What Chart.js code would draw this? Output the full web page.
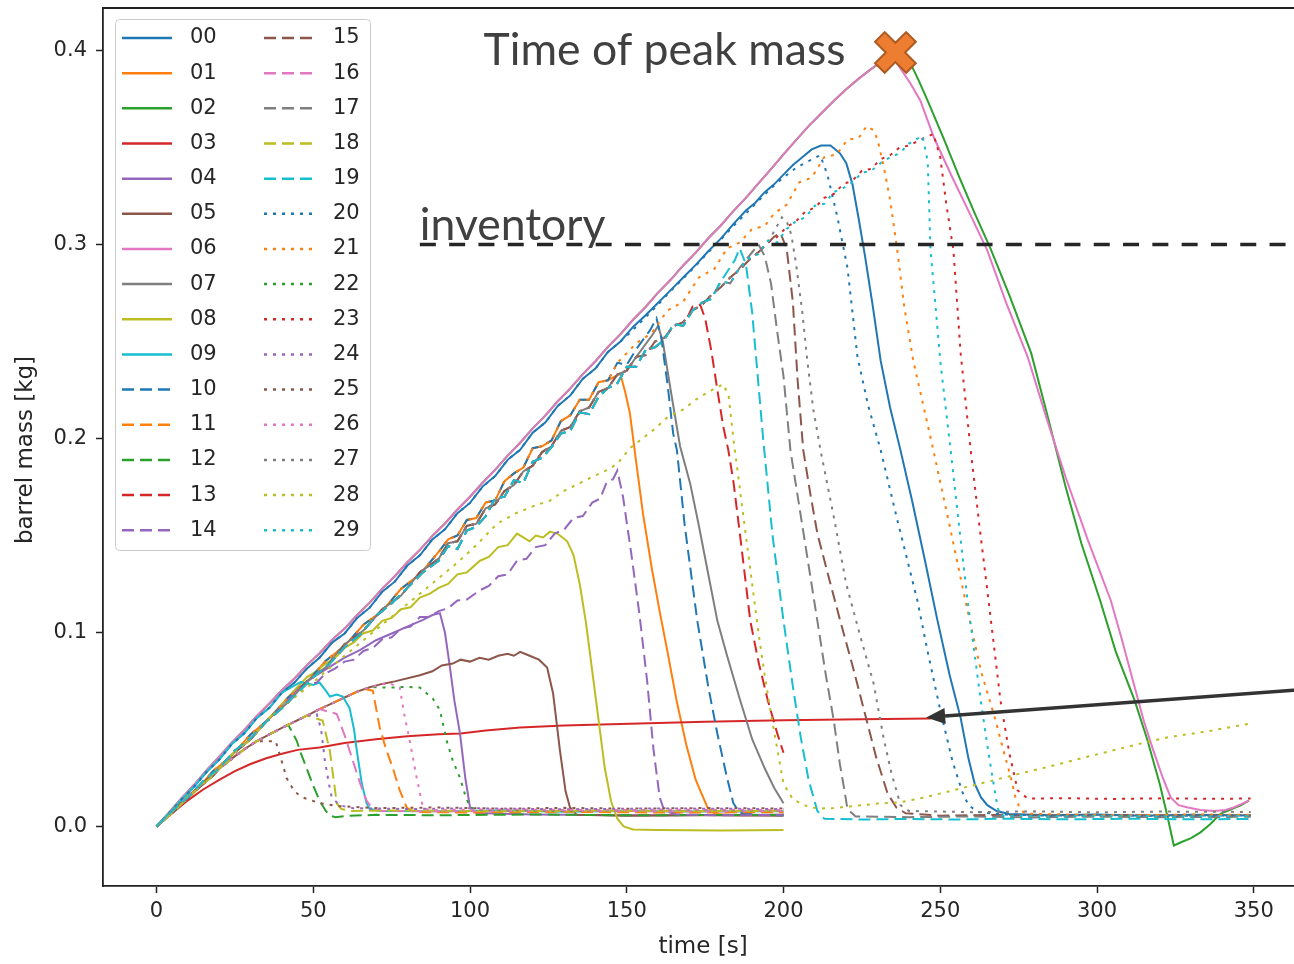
<!DOCTYPE html>
<html>
<head>
<meta charset="utf-8">
<title>barrel mass</title>
<script src="https://cdn.jsdelivr.net/npm/chart.js@4.4.1/dist/chart.umd.min.js"></script>
<style>
  html, body { margin: 0; padding: 0; background: #fff; overflow: hidden; }
  #cadre { width: 1300px; height: 964px; }
</style>
</head>
<body>
<div id="cadre"><canvas id="graphique-masse" width="1300" height="964"></canvas></div>
<script>
// run names and styles (tab10 colours, solid / dashed / dotted per decade)
const runLabels = ["00","01","02","03","04","05","06","07","08","09",
                   "10","11","12","13","14","15","16","17","18","19",
                   "20","21","22","23","24","25","26","27","28","29"];
const runColors = ["#1f77b4","#ff7f0e","#2ca02c","#d62728","#9467bd",
                   "#8c564b","#e377c2","#7f7f7f","#bcbd22","#17becf"];
const lineDashes = [[], [12, 6], [3, 6]];

const timeTicks = [0, 50, 100, 150, 200, 250, 300, 350];
const massTicks = [0.0, 0.1, 0.2, 0.3, 0.4];

// shared filling paths [time s, mass kg]
const riseTop = [[0,0],[4,.0072],[8,.0146],[12,.0215],[16,.0290],[20,.0360],[24,.0432],[28,.0498],[32,.0570],[36,.0634],[40,.0702],[44,.0763],[48,.0832],[52,.0893],[56,.0962],[60,.1020],[64,.1090],[68,.1154],[72,.1226],[76,.1290],[80,.1362],[84,.1426],[88,.1498],[92,.1562],[96,.1634],[100,.1700],[104,.1772],[108,.1838],[112,.1912],[116,.1978],[120,.2052],[124,.2118],[128,.2192],[132,.2258],[136,.2332],[140,.2398],[144,.2472],[148,.2538],[152,.2612],[156,.2678],[160,.2752],[164,.2818],[168,.2892],[172,.2958],[176,.3032],[180,.3098],[184,.3172],[188,.3240],[192,.3315],[196,.3388],[200,.3465],[204,.3538],[208,.3610],[212,.3675],[216,.3740],[220,.3800],[224,.3855],[228,.3905],[232,.3950],[236,.3990]];

const riseTop2 = [[0,0],[4,.0068],[8,.0140],[12,.0206],[16,.0282],[20,.0345],[24,.0425],[28,.0480],[32,.0560],[36,.0612],[40,.0690],[44,.0742],[48,.0815],[52,.0870],[56,.0948],[60,.0995],[64,.1075],[68,.1128],[72,.1210],[76,.1262],[80,.1345],[84,.1398],[88,.1480],[92,.1532],[96,.1615],[100,.1668],[104,.1752],[108,.1806],[112,.1890],[116,.1942],[120,.2030],[124,.2082],[128,.2168],[132,.2222],[136,.2308],[140,.2360],[144,.2446],[148,.2500],[152,.2585]];

const riseMid = [[0,0],[6,.0095],[12,.0175],[18,.0285],[24,.0365],[30,.0475],[36,.0555],[42,.0665],[48,.0745],[54,.0855],[60,.0930],[66,.1040],[72,.1110],[78,.1225],[84,.1300],[90,.1415],[93,.1480],[96,.1500],[99,.1580],[102,.1590],[105,.1670],[108,.1680],[111,.1780],[114,.1820],[117,.1850],[120,.1950],[123,.1960],[126,.1990],[129,.2090],[132,.2120],[135,.2200],[138,.2200],[141,.2290],[144,.2300],[147,.2390],[150,.2380],[153,.2460],[156,.2460],[159,.2550],[162,.2540],[165,.2620],[168,.2620],[171,.2710],[174,.2700],[177,.2790],[180,.2790],[183,.2880],[186,.2880],[189,.2970],[192,.2960],[195,.3050],[198,.3040],[201,.3130],[204,.3110],[207,.3200],[210,.3180],[213,.3260],[216,.3250],[219,.3330],[222,.3310],[225,.3390],[228,.3360],[231,.3440],[234,.3420],[237,.3500],[240,.3480],[243,.3550],[246,.3540]];

const riseMid2 = [[0,0],[6,.0085],[12,.0180],[18,.0262],[24,.0370],[30,.0450],[36,.0560],[42,.0640],[48,.0750],[54,.0820],[60,.0940],[66,.1010],[72,.1120],[78,.1190],[84,.1310],[90,.1380],[93,.1460],[96,.1470],[99,.1550],[102,.1560],[105,.1640],[108,.1660],[111,.1730],[114,.1760],[117,.1830],[120,.1860],[123,.1930],[126,.1960],[129,.2040],[132,.2060],[135,.2140],[138,.2160],[141,.2240],[144,.2260],[147,.2330],[150,.2350],[153,.2420],[156,.2430],[159,.2500],[162,.2520],[165,.2580],[168,.2600],[171,.2660],[174,.2690],[177,.2740],[180,.2780],[183,.2830],[186,.2870],[189,.2920],[192,.2960],[195,.3010],[198,.3040],[201,.3090],[204,.3120],[207,.3170],[210,.3190],[213,.3240],[216,.3260],[219,.3310],[222,.3330],[225,.3380],[228,.3390],[231,.3440],[234,.3460],[237,.3500],[240,.3510],[243,.3550],[246,.3560]];

const riseMid3 = [[0,0],[5,.0080],[10,.0150],[15,.0235],[20,.0300],[25,.0392],[30,.0455],[35,.0540],[40,.0610],[45,.0690],[50,.0770],[55,.0835],[60,.0925],[65,.0990],[70,.1085],[75,.1150],[80,.1230],[85,.1310],[90,.1370],[93,.1445],[96,.1430],[99,.1525],[102,.1545],[105,.1600],[108,.1690],[111,.1700],[114,.1785],[117,.1770],[120,.1880],[123,.1900],[126,.1955],[129,.2025],[132,.2040],[135,.2135],[138,.2125],[141,.2215],[144,.2260],[147,.2285],[150,.2370],[153,.2370],[156,.2455],[159,.2470],[162,.2510],[165,.2590],[168,.2580],[171,.2660],[174,.2700],[177,.2720],[180,.2810],[183,.2800],[186,.2880],[189,.2930],[192,.2950],[195,.3020],[198,.3010],[201,.3080],[204,.3120],[207,.3140],[210,.3200],[213,.3210],[216,.3270],[219,.3290],[222,.3320],[225,.3370],[228,.3380],[231,.3420],[234,.3450],[237,.3470],[240,.3520],[243,.3530],[246,.3560]];

const riseBase = [[0,0],[4,.0062],[8,.0124],[12,.0184],[16,.0242],[20,.0298],[24,.0350],[28,.0398],[32,.0440],[36,.0475],[40,.0508],[44,.0540],[48,.0572],[52,.0605],[56,.0635],[60,.0665],[64,.0695],[68,.0718],[72,.0735],[76,.0748],[80,.0760]];

// what each run does once it leaves its filling path
const tail00 = [[152,.2575],[156,.2635],[160,.2700],[164,.2765],[168,.2830],[172,.2895],[176,.2965],[180,.3030],[184,.3105],[188,.3175],[191,.3215],[194,.3270],[197,.3310],[200,.3360],[203,.3410],[206,.3450],[209,.3490],[212,.3510],[215,.3510],[218,.3470],[220,.3420],[222,.3310],[224,.3130],[226,.2940],[228.5,.2680],[231,.2400],[234,.2160],[237.3,.1940],[241,.1680],[245,.1380],[249,.1070],[253,.0780],[256.5,.0560],[259,.0350],[261,.0220],[263,.0150],[265,.0110],[268,.0080],[272,.0065],[285,.0058],[300,.0062],[315,.0056],[330,.0060],[349,.0057]];
const tail01 = [[147.9,.2335],[149.5,.2240],[151,.2130],[153,.1880],[155.2,.1610],[158,.1330],[160.6,.1100],[163,.0900],[166,.0640],[169,.0420],[172,.0240],[175.7,.0100],[178,.0065],[185,.0058],[200,.0060]];
const tail02 = [[232,.3950],[234,.3975],[236,.3990],[238,.3980],[240,.3950],[243,.3850],[246,.3740],[251,.3550],[256,.3350],[261,.3160],[266,.2980],[272,.2740],[279,.2440],[284,.2130],[290,.1750],[295,.1460],[301,.1165],[306,.0900],[312,.0650],[316,.0450],[320,.0220],[322.5,.0050],[324.5,-.0098],[327,-.0080],[330,-.0060],[333,-.0030],[336,.0010],[339.5,.0067],[343,.0090],[346,.0110],[348.5,.0134]];
const run03 = [[0,0],[5,.0068],[10,.0135],[15,.0192],[20,.0240],[25,.0285],[30,.0322],[35,.0352],[40,.0375],[45,.0395],[52,.0407],[60,.0430],[70,.0450],[80,.0465],[90,.0475],[97,.0480],[105,.0495],[116,.0510],[130,.0520],[154,.0531],[175,.0540],[200,.0548],[225,.0553],[247,.0557]];
const tail04 = [[45,.0710],[50,.0770],[55,.0820],[60,.0870],[65,.0910],[70,.0960],[75,.0995],[80,.1030],[85,.1065],[88,.1090],[90.4,.1100],[92,.1000],[93.6,.0820],[95,.0650],[96.8,.0480],[98.5,.0250],[100,.0098],[102,.0070],[120,.0062],[150,.0058],[200,.0060]];
const tail05 = [[84,.0780],[88,.0800],[91,.0830],[94.5,.0840],[97,.0860],[100,.0850],[103,.0870],[106,.0860],[109,.0880],[112,.0890],[114,.0880],[116,.0900],[119,.0880],[122,.0860],[124.6,.0820],[126.5,.0686],[128.7,.0390],[130.5,.0180],[131.9,.0098],[134,.0060],[150,.0055],[175,.0058],[200,.0055]];
const tail06 = [[228,.3905],[230,.3930],[232,.3960],[234,.3970],[236,.3940],[238,.3890],[240.5,.3830],[243.7,.3740],[248,.3550],[254,.3340],[260,.3140],[265,.2970],[271,.2700],[277.9,.2420],[284,.2100],[290,.1800],[297,.1480],[304.4,.1165],[308,.0960],[311.7,.0737],[315,.0540],[318,.0390],[321,.0250],[323.5,.0150],[326,.0110],[329,.0098],[333,.0085],[337.3,.0080],[341,.0085],[343.6,.0098],[346,.0115],[348.5,.0134]];
const tail07 = [[158,.2530],[160,.2580],[161.5,.2500],[164,.2250],[167,.1960],[170.2,.1770],[173,.1550],[176,.1300],[178.9,.1060],[182,.0880],[186,.0660],[190,.0450],[194,.0300],[197,.0200],[200,.0120]];
const tail08 = [[45,.0720],[48,.0770],[51,.0800],[54,.0840],[57,.0870],[60,.0920],[63,.0950],[65.8,.0995],[69,.1010],[72,.1060],[75,.1075],[78,.1120],[81,.1130],[84,.1180],[87.2,.1200],[90,.1230],[93,.1250],[96,.1300],[99,.1310],[103.2,.1370],[106,.1390],[109,.1440],[112,.1450],[115,.1510],[117,.1490],[119,.1470],[121,.1500],[123.3,.1490],[125.5,.1520],[127.8,.1510],[129.5,.1490],[131,.1470],[133,.1400],[135,.1250],[137,.1050],[139,.0800],[141,.0550],[143,.0300],[145,.0130],[147,.0040],[149,.0000],[152,-.0015],[160,-.0018],[180,-.0020],[200,-.0018]];
const tail09 = [[46,.0745],[48,.0738],[50,.0730],[52,.0742],[54,.0700],[55.3,.0670],[57.5,.0680],[59.4,.0670],[61.6,.0610],[63,.0500],[63.9,.0390],[65.5,.0220],[67,.0120],[68,.0090],[72,.0080],[90,.0078],[110,.0082],[130,.0076],[150,.0080],[170,.0077],[200,.0079]];
const tail10 = [[157.5,.2560],[159.5,.2620],[161,.2520],[163,.2280],[164.8,.2026],[166,.1940],[168.5,.1550],[172.5,.1060],[176,.0720],[179,.0470],[182,.0250],[184,.0120],[186,.0070],[192,.0060],[200,.0058]];
const tail11 = [[66,.0710],[69,.0700],[71.2,.0510],[73,.0410],[75.4,.0300],[77.5,.0190],[79.8,.0098],[82,.0075],[100,.0072],[130,.0076],[160,.0072],[200,.0074]];
const tail12 = [[42,.0525],[44.7,.0443],[46.2,.0370],[47.9,.0300],[50,.0210],[52,.0134],[54,.0080],[55.3,.0057],[57,.0048],[60.7,.0055],[70,.0060],[90,.0058],[120,.0062],[150,.0058],[200,.0060]];
const tail13 = [[171,.2680],[173.4,.2690],[175,.2620],[177,.2450],[179,.2240],[180.8,.2060],[182.4,.1940],[184,.1780],[186,.1520],[189.4,.1060],[192,.0850],[195,.0650],[198,.0480],[200,.0380]];
const tail14 = [[45,.0700],[48,.0745],[51,.0740],[54,.0790],[57,.0815],[60,.0850],[63,.0860],[66,.0905],[69,.0920],[72,.0965],[75,.0975],[78,.1020],[81,.1030],[84,.1080],[87,.1080],[90,.1110],[93,.1125],[96,.1165],[99,.1170],[103,.1216],[106,.1240],[109,.1290],[112,.1300],[115,.1370],[118,.1380],[121,.1440],[124,.1450],[127,.1510],[130,.1530],[133,.1590],[136,.1600],[139,.1670],[141.5,.1690],[143.5,.1770],[145.6,.1790],[147,.1835],[148.8,.1700],[151.5,.1400],[154,.1100],[156.5,.0750],[158.5,.0400],[160.5,.0150],[162,.0080],[166,.0062],[180,.0058],[200,.0060]];
const tail15 = [[197,.3040],[199,.3060],[201,.2980],[203,.2700],[204.5,.2300],[206.3,.1940],[208.5,.1720],[210.8,.1510],[214.5,.1280],[218.1,.1060],[222,.0830],[226,.0580],[229.5,.0360],[233.2,.0170],[236,.0098],[239,.0068],[250,.0056],[270,.0060],[290,.0055],[310,.0059],[330,.0055],[349,.0058]];
const tail16 = [[57.5,.0580],[60,.0470],[62.6,.0340],[65,.0220],[67,.0134],[69,.0090],[72,.0080],[100,.0078],[130,.0082],[160,.0078],[200,.0080]];
const tail17 = [[190,.2960],[192,.3000],[194,.2940],[196,.2800],[198,.2550],[200,.2320],[202.2,.1940],[206.5,.1500],[210.8,.1060],[213.5,.0780],[216,.0550],[218,.0320],[219.5,.0180],[220.4,.0090],[223,.0052],[240,.0048],[260,.0052],[280,.0047],[300,.0051],[320,.0048],[349,.0050]];
const tail18 = [[53,.0546],[55.3,.0390],[56.5,.0240],[57.5,.0120],[59,.0090],[62,.0080],[80,.0083],[110,.0078],[140,.0082],[170,.0079],[200,.0081]];
const tail19 = [[184.5,.2920],[186,.2980],[188,.2900],[190,.2650],[193.5,.2000],[196.5,.1500],[200,.1060],[203,.0720],[205.5,.0460],[208,.0240],[210.8,.0080],[213,.0040],[225,.0036],[240,.0039],[255,.0036],[270,.0040],[290,.0037],[310,.0040],[330,.0037],[349,.0039]];
const tail20 = [[152,.2560],[156,.2625],[160,.2690],[164,.2760],[168,.2825],[172,.2890],[176,.2960],[180,.3025],[184,.3095],[188,.3160],[192,.3225],[196,.3290],[200,.3345],[204,.3395],[208,.3430],[211.7,.3460],[214,.3360],[217.2,.3140],[220.4,.2880],[223.6,.2420],[227,.2170],[231,.1940],[236,.1600],[242.7,.1165],[246,.0900],[250,.0600],[254,.0330],[257,.0180],[259,.0110],[262,.0075],[270,.0062],[285,.0056],[300,.0060],[320,.0055],[349,.0058]];
const tail21 = [[153,.2490],[158,.2545],[163,.2660],[168,.2705],[173,.2830],[178,.2875],[182,.2980],[186,.3010],[190,.3080],[194,.3095],[197,.3160],[201,.3205],[205,.3320],[209,.3345],[213,.3450],[217,.3465],[220.4,.3540],[224,.3550],[226.5,.3610],[228.7,.3590],[230,.3540],[232,.3400],[234,.3230],[236.3,.2970],[238.5,.2680],[241.4,.2400],[247.8,.1940],[253,.1550],[258,.1165],[263,.0800],[267.6,.0550],[270,.0400],[272.4,.0260],[274,.0150],[275.5,.0090],[277,.0067],[290,.0062],[310,.0058],[330,.0062],[349,.0060]];
const tail22 = [[74.4,.0716],[80,.0720],[84,.0716],[88.1,.0660],[90.4,.0600],[92.6,.0440],[94.5,.0340],[96.8,.0250],[98.5,.0160],[100,.0098],[103,.0085],[130,.0082],[160,.0086],[200,.0083]];
const tail23 = [[245,.3550],[247.8,.3570],[250,.3450],[252,.3200],[254.2,.2970],[256.5,.2440],[259.7,.1940],[262.5,.1550],[265.4,.1165],[269.2,.0650],[272,.0380],[274.7,.0186],[277.9,.0144],[290,.0146],[305,.0142],[320,.0145],[335,.0143],[349,.0144]];
const tail24 = [[51.1,.0580],[52.5,.0500],[53.7,.0340],[55,.0220],[55.9,.0150],[58.4,.0110],[62,.0095],[80,.0090],[100,.0094],[130,.0089],[160,.0093],[200,.0090]];
const tail25 = [[38,.0440],[39.5,.0360],[41.5,.0250],[44,.0180],[46.6,.0150],[52,.0120],[58,.0105],[70,.0095],[90,.0098],[110,.0092],[130,.0096],[150,.0092],[175,.0095],[200,.0093]];
const tail26 = [[74,.0740],[77.6,.0716],[79,.0580],[80.8,.0440],[83,.0250],[85,.0098],[87,.0085],[110,.0088],[140,.0084],[170,.0087],[200,.0085]];
const tail27 = [[199.5,.3140],[201,.3120],[202.5,.3050],[204,.2900],[206,.2650],[207.6,.2400],[209.5,.2150],[211.8,.1940],[216,.1600],[220,.1250],[224.5,.0980],[228.7,.0740],[232,.0450],[234.5,.0270],[236.3,.0170],[237.3,.0110],[240,.0080],[260,.0074],[280,.0078],[300,.0073],[320,.0077],[349,.0075]];
const tail28 = [[48,.0715],[54,.0800],[60,.0880],[66,.0960],[72,.1040],[78,.1120],[84,.1200],[90,.1280],[96,.1360],[102,.1450],[108.6,.1560],[114,.1610],[120,.1650],[125.5,.1680],[130,.1730],[135,.1770],[140,.1810],[144,.1840],[147,.1870],[151,.1950],[155,.2000],[159,.2050],[163,.2110],[168,.2150],[172,.2200],[176,.2240],[180.8,.2280],[182.5,.2220],[184,.2000],[186,.1750],[188,.1500],[190,.1250],[192,.1000],[194,.0780],[196,.0580],[198,.0400],[200,.0220],[203,.0140],[205.4,.0120],[208,.0100],[211.7,.0093],[216,.0095],[222,.0105],[230,.0118],[237,.0124],[245,.0150],[256.5,.0196],[265,.0230],[274.7,.0270],[285,.0310],[301,.0376],[312,.0420],[322.6,.0460],[335,.0490],[348.5,.0530]];
const tail29 = [[244.3,.3560],[246,.3430],[246.9,.2970],[248.5,.2680],[250,.2400],[253.3,.1940],[256,.1550],[258.7,.1165],[262.9,.0650],[265,.0420],[267,.0220],[268.3,.0098],[269.2,.0057],[285,.0052],[305,.0056],[325,.0052],[349,.0055]];

// filling path, time the run leaves it, then its own points
const runs = [
  { rise: riseTop2, leave: 152, tail: tail00 },
  { rise: riseMid,  leave: 146, tail: tail01 },
  { rise: riseTop,  leave: 232, tail: tail02 },
  { rise: [],       leave: 0,   tail: run03 },
  { rise: riseMid2, leave: 42,  tail: tail04 },
  { rise: riseBase, leave: 80,  tail: tail05 },
  { rise: riseTop,  leave: 228, tail: tail06 },
  { rise: riseMid2, leave: 156, tail: tail07 },
  { rise: riseMid2, leave: 42,  tail: tail08 },
  { rise: riseTop2, leave: 44,  tail: tail09 },
  { rise: riseMid,  leave: 156, tail: tail10 },
  { rise: riseBase, leave: 64,  tail: tail11 },
  { rise: riseBase, leave: 42,  tail: tail12 },
  { rise: riseMid3, leave: 170, tail: tail13 },
  { rise: riseMid2, leave: 42,  tail: tail14 },
  { rise: riseMid2, leave: 195, tail: tail15 },
  { rise: riseBase, leave: 56,  tail: tail16 },
  { rise: riseMid3, leave: 189, tail: tail17 },
  { rise: riseBase, leave: 52,  tail: tail18 },
  { rise: riseMid3, leave: 183, tail: tail19 },
  { rise: riseTop2, leave: 152, tail: tail20 },
  { rise: riseMid,  leave: 150, tail: tail21 },
  { rise: riseBase, leave: 72,  tail: tail22 },
  { rise: riseMid2, leave: 243, tail: tail23 },
  { rise: riseBase, leave: 50,  tail: tail24 },
  { rise: riseBase, leave: 36,  tail: tail25 },
  { rise: riseBase, leave: 72,  tail: tail26 },
  { rise: riseMid2, leave: 198, tail: tail27 },
  { rise: riseMid2, leave: 46,  tail: tail28 },
  { rise: riseMid3, leave: 243, tail: tail29 },
];

// annotations
const peakTime = 235.7, peakMass = 0.399;
const inventoryMass = 0.3, inventoryFrom = 84;
const arrowFrom = [365, 0.0705], arrowTo = [245.5, 0.0562];

const datasets = runs.map((run, i) => ({
  label: runLabels[i],
  data: run.rise.filter(p => p[0] < run.leave).concat(run.tail).map(p => ({ x: p[0], y: p[1] })),
  borderColor: runColors[i % 10],
  borderDash: lineDashes[Math.floor(i / 10)],
  borderWidth: 2,
  pointRadius: 0,
  fill: false,
  tension: 0,
  order: 29 - i,
}));

const policeAxe = "'DejaVu Sans', sans-serif";

function dessinerCroix(ctx, cx, cy) {
  const a = 22, b = 6.8, c = Math.SQRT1_2;
  const pts = [[b,-a],[b,-b],[a,-b],[a,b],[b,b],[b,a],[-b,a],[-b,b],[-a,b],[-a,-b],[-b,-b],[-b,-a]];
  ctx.beginPath();
  pts.forEach(([px, py], k) => {
    const rx = cx + (px - py) * c, ry = cy + (px + py) * c;
    if (k) ctx.lineTo(rx, ry); else ctx.moveTo(rx, ry);
  });
  ctx.closePath();
  ctx.fillStyle = "#ed7d31";
  ctx.fill();
  ctx.lineWidth = 2;
  ctx.strokeStyle = "#ae5a21";
  ctx.stroke();
}

function dessinerLegende(ctx) {
  ctx.save();
  ctx.beginPath();
  ctx.roundRect(115.5, 19.5, 255, 531, 4);
  ctx.fillStyle = "rgba(255,255,255,0.8)";
  ctx.fill();
  ctx.lineWidth = 1;
  ctx.strokeStyle = "#cccccc";
  ctx.stroke();
  ctx.font = "21px " + policeAxe;
  ctx.textBaseline = "middle";
  ctx.fillStyle = "#262626";
  for (let i = 0; i < runLabels.length; i++) {
    const col = Math.floor(i / 15), row = i % 15;
    const yy = 38 + row * 35.16;
    const x0 = col ? 264 : 122;
    ctx.beginPath();
    ctx.setLineDash(lineDashes[Math.floor(i / 10)]);
    ctx.strokeStyle = runColors[i % 10];
    ctx.lineWidth = 2.5;
    ctx.moveTo(x0, yy);
    ctx.lineTo(x0 + 50, yy);
    ctx.stroke();
    ctx.setLineDash([]);
    ctx.fillText(runLabels[i], col ? 333 : 190, yy);
  }
  ctx.restore();
}

const decorations = {
  id: "decorations",
  afterDraw(chart) {
    const { ctx, chartArea, scales: { x, y } } = chart;
    ctx.save();
    // top spine
    ctx.beginPath();
    ctx.strokeStyle = "#222";
    ctx.lineWidth = 1.8;
    ctx.moveTo(chartArea.left, chartArea.top);
    ctx.lineTo(chartArea.right, chartArea.top);
    ctx.stroke();

    // inventory level
    const yInv = y.getPixelForValue(inventoryMass);
    ctx.beginPath();
    ctx.setLineDash([16, 13.3]);
    ctx.lineWidth = 3.5;
    ctx.strokeStyle = "#262626";
    ctx.moveTo(x.getPixelForValue(inventoryFrom), yInv);
    ctx.lineTo(chart.width, yInv);
    ctx.stroke();
    ctx.setLineDash([]);

    ctx.font = "44.5px Lato";
    ctx.fillStyle = "#404040";
    ctx.textBaseline = "alphabetic";
    ctx.textAlign = "left";
    ctx.fillText("inventory", x.getPixelForValue(inventoryFrom), yInv - 4);

    // peak marker and its label
    const px = x.getPixelForValue(peakTime), py = y.getPixelForValue(peakMass);
    ctx.textAlign = "right";
    ctx.fillText("Time of peak mass", px - 50, py + 13);
    dessinerCroix(ctx, px, py);

    // arrow to the end of run 03
    const ax0 = x.getPixelForValue(arrowFrom[0]), ay0 = y.getPixelForValue(arrowFrom[1]);
    const ax1 = x.getPixelForValue(arrowTo[0]), ay1 = y.getPixelForValue(arrowTo[1]);
    const ang = Math.atan2(ay1 - ay0, ax1 - ax0);
    const hl = 19, hw = 8;
    const bx = ax1 - hl * Math.cos(ang), by = ay1 - hl * Math.sin(ang);
    ctx.beginPath();
    ctx.strokeStyle = "#333";
    ctx.lineWidth = 3.5;
    ctx.moveTo(ax0, ay0);
    ctx.lineTo(bx, by);
    ctx.stroke();
    ctx.beginPath();
    ctx.fillStyle = "#333";
    ctx.moveTo(ax1, ay1);
    ctx.lineTo(bx + hw * Math.sin(ang), by - hw * Math.cos(ang));
    ctx.lineTo(bx - hw * Math.sin(ang), by + hw * Math.cos(ang));
    ctx.closePath();
    ctx.fill();

    // axis titles
    ctx.font = "23px " + policeAxe;
    ctx.fillStyle = "#262626";
    ctx.textAlign = "center";
    ctx.textBaseline = "middle";
    ctx.fillText("time [s]", 703, 947);
    ctx.translate(26, 450);
    ctx.rotate(-Math.PI / 2);
    ctx.fillText("barrel mass [kg]", 0, 0);
    ctx.restore();

    dessinerLegende(ctx);
  }
};

const config = {
  type: "line",
  data: { datasets },
  options: {
    responsive: false,
    animation: false,
    devicePixelRatio: 1,
    layout: { padding: { top: 8, right: 0, bottom: 0, left: 0 } },
    plugins: { legend: { display: false }, tooltip: { enabled: false } },
    scales: {
      x: {
        type: "linear",
        min: -17.07,
        max: 364.75,
        afterBuildTicks: s => { s.ticks = timeTicks.map(v => ({ value: v })); },
        afterFit: s => { s.height = 78; s.paddingLeft = 0; s.paddingRight = 0; },
        grid: { display: true, drawOnChartArea: false, drawTicks: true, tickLength: 7, tickWidth: 1.5, tickColor: "#222" },
        border: { display: true, color: "#222", width: 1.8 },
        ticks: { font: { family: policeAxe, size: 21 }, color: "#262626", padding: 6, maxRotation: 0, callback: v => String(v) },
      },
      y: {
        type: "linear",
        min: -0.03067,
        max: 0.4219,
        afterBuildTicks: s => { s.ticks = massTicks.map(v => ({ value: v })); },
        afterFit: s => { s.width = 103; s.paddingTop = 0; s.paddingBottom = 0; },
        grid: { display: true, drawOnChartArea: false, drawTicks: true, tickLength: 7, tickWidth: 1.5, tickColor: "#222" },
        border: { display: true, color: "#222", width: 1.8 },
        ticks: { font: { family: policeAxe, size: 21 }, color: "#262626", padding: 9, callback: v => v.toFixed(1) },
      },
    },
  },
  plugins: [decorations],
};

const graphiqueMasse = new Chart(document.querySelector("#graphique-masse"), config);
</script>
</body>
</html>
